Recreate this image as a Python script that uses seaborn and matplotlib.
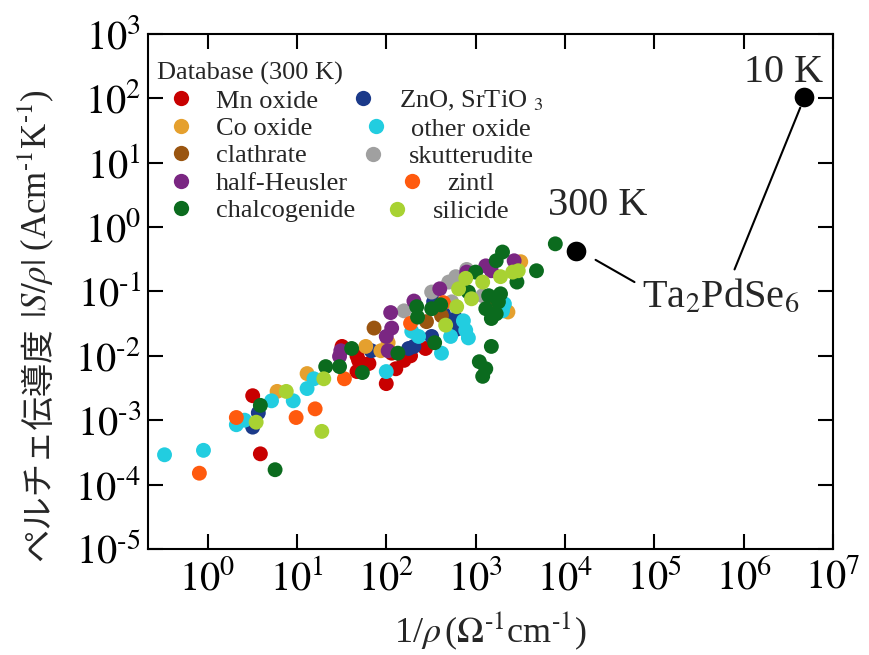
import numpy as np
import pandas as pd
import seaborn as sns
import matplotlib.pyplot as plt
from matplotlib.lines import Line2D
from matplotlib.ticker import FixedLocator, NullLocator, FuncFormatter

# 1/rho (Ohm^-1 cm^-1) and |S/rho| (A cm^-1 K^-1)
mn_x = [3.2, 3.9, 32, 47, 64, 47, 100, 128, 158, 187, 275, 49, 115]
mn_y = [2.4e-3, 3.0e-4, 1.4e-2, 1.0e-2, 7.6e-3, 5.7e-3, 3.7e-3, 6.3e-3, 8.5e-3, 1.0e-2, 1.3e-2, 8.5e-3, 1.1e-2]

zno_x = [3.7, 3.2, 68, 178, 204, 322, 339, 600, 614, 437]
zno_y = [1.3e-3, 7.8e-4, 1.2e-2, 1.3e-2, 1.4e-2, 2.0e-2, 6.9e-2, 3.8e-2, 2.6e-2, 4.5e-2]

co_x = [6.0, 13, 59, 87, 105, 3200, 2300]
co_y = [2.8e-3, 5.3e-3, 1.4e-2, 1.2e-2, 1.6e-2, 2.9e-1, 4.8e-2]

oxide_x = [0.33, 0.90, 2.1, 2.6, 5.2, 9.1, 13, 15.5, 100, 193, 230, 415, 525, 730, 775, 830, 2100, 2000]
oxide_y = [2.9e-4, 3.4e-4, 8.5e-4, 1.0e-3, 2.0e-3, 2.0e-3, 3.1e-3, 4.4e-3, 5.7e-3, 2.4e-2, 2.0e-2,
           1.1e-2, 2.0e-2, 3.5e-2, 2.5e-2, 1.9e-2, 6.4e-2, 5.0e-2]

clath_x = [73, 282, 415, 1500]
clath_y = [2.7e-2, 3.4e-2, 4.2e-2, 5.4e-2]

skut_x = [158, 322, 500, 600, 795, 540, 1200]
skut_y = [5.0e-2, 9.8e-2, 1.4e-1, 1.7e-1, 2.2e-1, 6.9e-2, 8.6e-2]

hh_x = [31, 30, 105, 100, 115, 112, 204, 397, 795, 1300, 1500, 2700]
hh_y = [1.2e-2, 9.8e-3, 1.2e-2, 2.0e-2, 2.7e-2, 4.7e-2, 7.1e-2, 1.1e-1, 2.0e-1, 2.5e-1, 2.1e-1, 3.0e-1]

zintl_x = [0.81, 2.1, 9.8, 16, 34, 187, 437]
zintl_y = [1.5e-4, 1.1e-3, 1.1e-3, 1.5e-3, 4.4e-3, 3.2e-2, 6.7e-2]

chalc_x = [5.7, 3.9, 21, 30, 41, 54, 135, 219, 224, 322, 407, 348, 1000, 830, 1400, 1800, 1300,
           1700, 1500, 1500, 1100, 1300, 1200, 2000, 1700, 4800, 7800, 2900, 1900]
chalc_y = [1.7e-4, 1.7e-3, 6.8e-3, 6.8e-3, 1.3e-2, 5.5e-3, 1.1e-2, 5.8e-2, 4.0e-2, 5.4e-2, 6.2e-2,
           1.6e-2, 2.0e-1, 9.8e-2, 8.6e-2, 6.9e-2, 5.4e-2, 4.5e-2, 3.8e-2, 1.4e-2, 8.1e-3, 6.3e-3,
           4.8e-3, 4.1e-1, 3.0e-1, 2.1e-1, 5.5e-1, 1.4e-1, 9.2e-2]

sili_x = [3.5, 7.6, 20, 19, 462, 614, 645, 775, 900, 1200, 1900, 2600, 3000]
sili_y = [9.3e-4, 2.8e-3, 4.4e-3, 6.7e-4, 3.0e-2, 5.8e-2, 1.1e-1, 1.6e-1, 7.7e-2, 1.4e-1, 1.7e-1, 2.0e-1, 2.1e-1]

# Ta2PdSe6 at 300 K and 10 K
ta_x = [1.33e4, 4.7e6]
ta_y = [0.43, 107]

# decades that carry a tick label
x_ticks = [1e0, 1e1, 1e2, 1e3, 1e4, 1e5, 1e6, 1e7]
y_ticks = [1e-5, 1e-4, 1e-3, 1e-2, 1e-1, 1e0, 1e1, 1e2, 1e3]

groups = {
    "Mn oxide": (mn_x, mn_y),
    "ZnO, SrTiO $_{3}$": (zno_x, zno_y),
    "Co oxide": (co_x, co_y),
    "other oxide": (oxide_x, oxide_y),
    "clathrate": (clath_x, clath_y),
    "skutterudite": (skut_x, skut_y),
    "half-Heusler": (hh_x, hh_y),
    "zintl": (zintl_x, zintl_y),
    "chalcogenide": (chalc_x, chalc_y),
    "silicide": (sili_x, sili_y),
}
colors = {
    "Mn oxide": "#C80000",
    "ZnO, SrTiO $_{3}$": "#1B3A8A",
    "Co oxide": "#E5A02E",
    "other oxide": "#22CDE0",
    "clathrate": "#9A5510",
    "skutterudite": "#A0A0A0",
    "half-Heusler": "#7A2682",
    "zintl": "#FF5A0E",
    "chalcogenide": "#0B6B1E",
    "silicide": "#A8D232",
}
legend_order = ["Mn oxide", "Co oxide", "clathrate", "half-Heusler", "chalcogenide",
                "ZnO, SrTiO $_{3}$", "other oxide", "skutterudite", "zintl", "silicide"]

df = pd.concat([pd.DataFrame({"x": gx, "y": gy, "group": name})
                for name, (gx, gy) in groups.items()], ignore_index=True)

sns.set_style("ticks")
plt.rcParams["font.family"] = ["Liberation Serif", "Noto Sans CJK JP", "DejaVu Sans"]
plt.rcParams["mathtext.fontset"] = "stix"

fig = plt.figure(figsize=(8.7, 6.55), dpi=100)
ax = fig.add_axes([0.170, 0.162, 0.7875, 0.786])

sns.scatterplot(data=df, x="x", y="y", hue="group", palette=colors, s=115,
                linewidth=0, legend=False, ax=ax, zorder=3)
sns.scatterplot(x=ta_x, y=ta_y, color="black", s=200, linewidth=0, ax=ax, zorder=4)

ax.set_xscale("log")
ax.set_yscale("log")
ax.set_xlim(0.215, 1e7)
ax.set_ylim(1e-5, 1e3)
ax.xaxis.set_major_locator(FixedLocator(x_ticks))
ax.yaxis.set_major_locator(FixedLocator(y_ticks))
ax.xaxis.set_minor_locator(NullLocator())
ax.yaxis.set_minor_locator(NullLocator())
decade = FuncFormatter(lambda v, pos: r"$10^{\text{%d}}$" % int(round(np.log10(v))))
ax.xaxis.set_major_formatter(decade)
ax.yaxis.set_major_formatter(decade)
ax.tick_params(which="major", direction="in", length=11, width=1.5, top=True, right=True,
               labelsize=29, colors="black")
ax.tick_params(axis="x", pad=8)
ax.tick_params(axis="y", pad=5)
for sp in ax.spines.values():
    sp.set_linewidth(1.5)
    sp.set_color("black")

ax.set_xlabel(r"1/$\rho\,$($\Omega^{\text{-1}}$cm$^{\text{-1}}$)", fontsize=26, labelpad=8)
ax.set_ylabel("")
# y label: Japanese part and the math part as two rotated pieces, one above the other
fig.text(0.064, 0.500, "ペルチェ伝導度", family="Noto Sans CJK JP", fontsize=24,
         rotation=90, ha="right", va="top")
fig.text(0.064, 0.503, r" $|S/\rho|$ (Acm$^{\text{-1}}$K$^{\text{-1}}$)", fontsize=25,
         rotation=90, ha="right", va="bottom")

# annotations for Ta2PdSe6
ax.text(2.3e4, 2.2, "300 K", fontsize=29, ha="center", va="center")
ax.text(2.8e6, 250, "10 K", fontsize=29, ha="center", va="center")
ax.text(5.5e5, 0.083, r"Ta$_2$PdSe$_6$", fontsize=29, ha="center", va="center")
line_kw = dict(arrowstyle="-", lw=1.5, color="black", shrinkA=0, shrinkB=0)
ax.annotate("", xy=(2.2e4, 0.31), xytext=(6.0e4, 0.14), arrowprops=line_kw)
ax.annotate("", xy=(4.3e6, 72), xytext=(7.9e5, 0.22), arrowprops=line_kw)

handles = [Line2D([], [], marker="o", ls="", color=colors[k], markeredgecolor="none",
                  markersize=11) for k in legend_order]
leg = ax.legend(handles, legend_order, ncol=2, frameon=False, fontsize=19,
                title="Database (300 K)", title_fontsize=19, alignment="left",
                handlelength=1.8, handletextpad=0.45, columnspacing=-0.6,
                labelspacing=0.15, borderpad=0, borderaxespad=0,
                loc="upper left", bbox_to_anchor=(0.013, 0.946))
# second column entries sit centred in the original
try:
    leg._legend_handle_box.get_children()[1].align = "center"
except Exception:
    pass

fig.savefig("out.png", dpi=100)
